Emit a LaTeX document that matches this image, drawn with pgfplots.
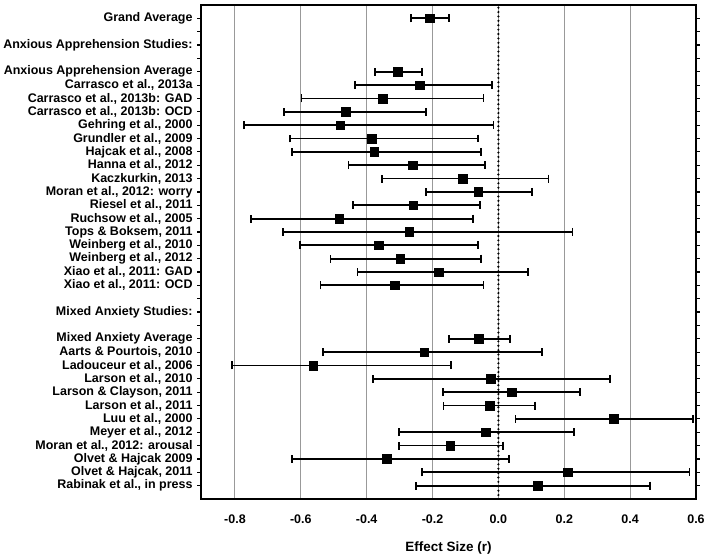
\documentclass[border=0pt]{standalone}
\usepackage{pgfplots}
\pgfplotsset{compat=1.18}
\usepackage{pgfplotstable}
\usepackage{fontspec}
\setmainfont{Liberation Sans}
\pgfplotstableread{
i m lo hi
0 -0.209 -0.265 -0.149
4 -0.305 -0.375 -0.233
5 -0.239 -0.436 -0.020
6 -0.352 -0.598 -0.045
7 -0.463 -0.652 -0.219
8 -0.480 -0.773 -0.015
9 -0.384 -0.632 -0.063
10 -0.377 -0.627 -0.054
11 -0.260 -0.455 -0.041
12 -0.108 -0.354 0.152
13 -0.062 -0.220 0.101
14 -0.259 -0.442 -0.055
15 -0.484 -0.752 -0.077
16 -0.271 -0.655 0.225
17 -0.363 -0.602 -0.062
18 -0.298 -0.510 -0.052
19 -0.182 -0.428 0.091
20 -0.315 -0.540 -0.045
24 -0.059 -0.149 0.034
25 -0.226 -0.532 0.132
26 -0.563 -0.808 -0.143
27 -0.024 -0.381 0.339
28 0.041 -0.169 0.247
29 -0.027 -0.167 0.112
30 0.350 0.052 0.591
31 -0.039 -0.302 0.229
32 -0.147 -0.302 0.015
33 -0.339 -0.626 0.031
34 0.211 -0.233 0.580
35 0.120 -0.251 0.460
}\data
\begin{document}
\begin{tikzpicture}
\begin{axis}[
  scale only axis, width=496pt, height=495pt,
  xmin=-0.903, xmax=0.6, ymin=-1, ymax=36, y dir=reverse,
  axis line style={line width=2.2pt},
  xtick={-0.8,-0.6,-0.4,-0.2,0,0.2,0.4,0.6},
  xticklabels={-0.8,-0.6,-0.4,-0.2,0.0,0.2,0.4,0.6},
  xmajorgrids, grid style={gray!80, line width=1pt},
  x tick style={draw=none},
  xticklabel style={font=\fontsize{12.5}{14}\selectfont\bfseries, yshift=-8pt},
  ytick={0,...,35},
  yticklabels={Grand Average,,Anxious Apprehension Studies:,,Anxious Apprehension Average,{Carrasco et al., 2013a},{Carrasco et al., 2013b: GAD},{Carrasco et al., 2013b: OCD},{Gehring et al., 2000},{Grundler et al., 2009},{Hajcak et al., 2008},{Hanna et al., 2012},{Kaczkurkin, 2013},{Moran et al., 2012: worry},{Riesel et al., 2011},{Ruchsow et al., 2005},{Tops \& Boksem, 2011},{Weinberg et al., 2010},{Weinberg et al., 2012},{Xiao et al., 2011: GAD},{Xiao et al., 2011: OCD},,Mixed Anxiety Studies:,,Mixed Anxiety Average,{Aarts \& Pourtois, 2010},{Ladouceur et al., 2006},{Larson et al., 2010},{Larson \& Clayson, 2011},{Larson et al., 2011},{Luu et al., 2000},{Meyer et al., 2012},{Moran et al., 2012: arousal},{Olvet \& Hajcak 2009},{Olvet \& Hajcak, 2011},{Rabinak et al., in press}},
  yticklabel style={font=\fontsize{12.5}{14}\selectfont\bfseries, xshift=-1pt},
  y tick style={line width=1.2pt, black},
  tick align=outside, major tick length=4pt,
  /pgf/number format/assume math mode=true,
  xlabel={Effect Size (r)},
  xlabel style={font=\fontsize{13.5}{16}\selectfont\bfseries, yshift=-12pt},
  clip=false,
]
\addplot[black, line width=2.4pt, dash pattern=on 0pt off 4.4pt, line cap=round] coordinates {(0,-0.8) (0,35.8)};
\addplot[black, mark=square*, mark size=4.3pt, only marks,
  error bars/.cd, x dir=both, x explicit, error mark=|,
  error bar style={line width=1.8pt, black, solid},
  error mark options={mark size=4pt, line width=1.8pt, black, solid}]
  table[x=m, y=i, x error plus expr=\thisrow{hi}-\thisrow{m}, x error minus expr=\thisrow{m}-\thisrow{lo}] {\data};
\end{axis}
\path (current axis.south west) ++(-201pt,-57pt) rectangle ++(708pt,557pt);
\end{tikzpicture}
\end{document}
